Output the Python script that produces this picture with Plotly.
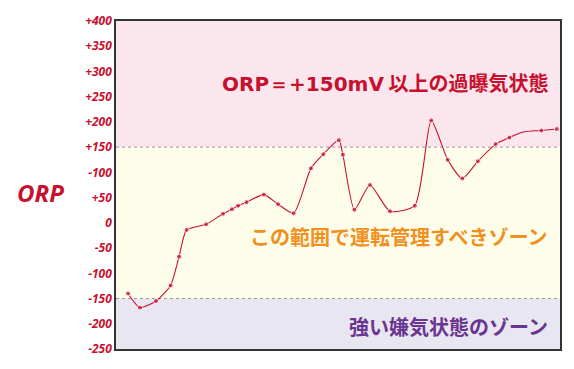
import plotly.graph_objects as go

# data (x: relative time position, y: ORP mV)
x_vals = [2.7, 5.4, 9.0, 12.3, 14.2, 15.9, 20.3, 24.1, 26.1, 27.5, 29.4, 33.3, 36.5, 40.0,
          43.9, 46.7, 50.2, 51.1, 53.7, 57.2, 61.7, 67.3, 71.0, 74.7, 78.0, 81.5, 85.5,
          88.6, 91.7, 95.8, 99.3]
orp_vals = [-140, -168, -155, -124, -67, -14, -3, 18, 27, 34, 41, 56, 37, 19,
            108, 136, 164, 135, 26, 75, 23, 34, 203, 125, 88, 122, 156,
            169, 180, 183, 186]
marked = [1]*28 + [0, 1, 1]

tick_vals = [400, 350, 300, 250, 200, 150, 100, 50, 0, -50, -100, -150, -200, -250]
tick_text = ["+400", "+350", "+300", "+250", "+200", "+150", "-100", "+50", "0",
             "-50", "-100", "-150", "-200", "-250"]

zones = [(150, 400, "#fbe6ee"), (-150, 150, "#fefde9"), (-250, -150, "#e8e6f0")]
zone_labels = [
    ("<span style='font-family:DejaVu Sans'>ORP＝+150mV</span> 以上の過曝気状態", 279, "#c8102e"),
    ("この範囲で運転管理すべきゾーン", -28, "#f0901e"),
    ("強い嫌気状態のゾーン", -206, "#6a3591"),
]

red = "#c8102e"
fig = go.Figure()
fig.add_trace(go.Scatter(
    x=x_vals, y=orp_vals, mode="lines+markers",
    line=dict(color=red, width=1.1, shape="spline", smoothing=0.6),
    marker=dict(color=red, size=[5 if m else 0 for m in marked]),
    hoverinfo="skip", showlegend=False))

shapes = []
for y0, y1, c in zones:
    shapes.append(dict(type="rect", xref="paper", yref="y", x0=0, x1=1, y0=y0, y1=y1,
                       fillcolor=c, line=dict(width=0), layer="below"))
for yv in (150, -150):
    shapes.append(dict(type="line", xref="paper", yref="y", x0=0, x1=1, y0=yv, y1=yv,
                       line=dict(color="#999999", width=1, dash="dot"), layer="below"))

annotations = []
for txt, yv, c in zone_labels:
    annotations.append(dict(text=txt, x=0.978, xref="paper", y=yv, yref="y",
                            xanchor="right", yanchor="middle", showarrow=False,
                            font=dict(family="Noto Sans CJK JP", size=20, color=c,
                                      weight="bold")))
annotations.append(dict(text="<b><i>ORP</i></b>", x=-0.17, xref="paper", y=60, yref="y",
                        xanchor="center", yanchor="middle", showarrow=False,
                        font=dict(family="Open Sans", size=24, color=red)))

fig.update_layout(
    width=574, height=369,
    margin=dict(l=116, r=12, t=15, b=17),
    paper_bgcolor="white", plot_bgcolor="white",
    shapes=shapes, annotations=annotations,
    xaxis=dict(range=[0, 100], showgrid=False, zeroline=False, showticklabels=False,
               ticks="", showline=True, linecolor="#333333", linewidth=1.5, mirror=True),
    yaxis=dict(range=[-250, 400], tickvals=tick_vals, ticktext=tick_text,
               showgrid=False, zeroline=False, ticks="", showline=True,
               linecolor="#333333", linewidth=1.5, mirror=True,
               tickfont=dict(family="Open Sans", size=12, color=red, style="italic",
                             weight="bold")),
)
fig.write_html("out.html", config={"displayModeBar": False},
               post_script="document.body.style.margin='0';")
